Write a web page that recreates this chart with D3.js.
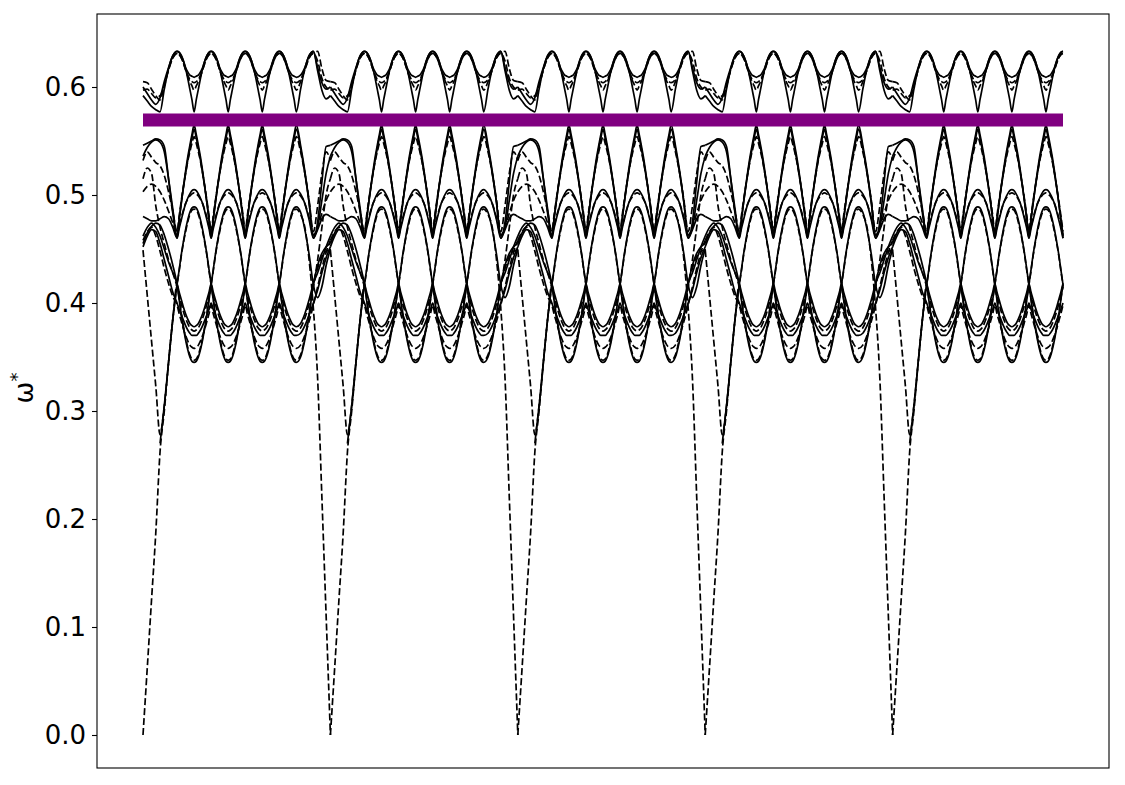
<!DOCTYPE html>
<html>
<head>
<meta charset="utf-8">
<script src="https://cdn.jsdelivr.net/npm/d3@7"></script>
<style>
  body { margin: 0; background: #fff; }
  svg { display: block; font-family: "DejaVu Sans", sans-serif; }
</style>
</head>
<body>
<svg id="chart"></svg>
<script>
// y axis ticks
const yTicks = [0.0, 0.1, 0.2, 0.3, 0.4, 0.5, 0.6];

// x runs over 5 repeated segments (last one cut short)
const segLength = 5.5;
const nSegments = 5;
const uMax = 27;
const purpleLevel = 0.5695;

// sample positions of the irregular parts at the start / end of each segment
const uStart = [0, 0.125, 0.25, 0.375, 0.5, 0.625, 0.75, 0.875];
const uEnd = [4.625, 4.75, 4.875, 5.0, 5.125, 5.25, 5.375, 5.5];

// regular part: one period read at steps of 1/16
const topVShape  = [0.633,0.632,0.629,0.624,0.617,0.608,0.598,0.588,0.577,0.588,0.598,0.608,0.617,0.624,0.629,0.632];
const topWShape  = [0.633,0.632,0.629,0.624,0.618,0.614,0.611,0.610,0.609,0.610,0.611,0.614,0.618,0.624,0.629,0.632];
const topDVShape = [0.631,0.630,0.627,0.622,0.616,0.610,0.605,0.601,0.597,0.601,0.605,0.610,0.616,0.622,0.627,0.630];
const topDWShape = [0.631,0.630,0.627,0.622,0.616,0.611,0.607,0.605,0.604,0.605,0.607,0.611,0.616,0.622,0.627,0.630];
const zigAShape  = [0.460,0.477,0.493,0.508,0.522,0.535,0.546,0.556,0.565,0.556,0.546,0.535,0.522,0.508,0.493,0.477];
const zigBShape  = [0.462,0.478,0.493,0.507,0.520,0.532,0.543,0.553,0.561,0.553,0.543,0.532,0.520,0.507,0.493,0.478];
const zigDShape  = [0.466,0.481,0.495,0.508,0.520,0.531,0.540,0.548,0.554,0.548,0.540,0.531,0.520,0.508,0.495,0.481];
const archSShape = [0.460,0.469,0.477,0.485,0.492,0.497,0.501,0.504,0.505,0.504,0.501,0.497,0.492,0.485,0.477,0.469];
const archDShape = [0.463,0.471,0.479,0.486,0.492,0.496,0.499,0.501,0.502,0.501,0.499,0.496,0.492,0.486,0.479,0.471];
const lowAShape  = [0.418,0.410,0.403,0.396,0.390,0.385,0.381,0.379,0.378,0.379,0.381,0.385,0.390,0.396,0.403,0.410];
const lowBShape  = [0.400,0.394,0.389,0.384,0.379,0.375,0.372,0.370,0.370,0.370,0.372,0.375,0.379,0.384,0.389,0.394];
const lowCShape  = [0.398,0.390,0.383,0.376,0.370,0.365,0.361,0.359,0.358,0.359,0.361,0.365,0.370,0.376,0.383,0.390];
const lowDShape  = [0.415,0.407,0.399,0.392,0.386,0.381,0.377,0.375,0.374,0.375,0.377,0.381,0.386,0.392,0.399,0.407];
// the wide wave has period 2 (32 samples, starting at its top)
const bigSShape = [0.489,0.488,0.484,0.477,0.468,0.457,0.445,0.431,0.417,0.403,0.389,0.377,0.366,0.357,0.350,0.346,
                   0.345,0.346,0.350,0.357,0.366,0.377,0.389,0.403,0.417,0.431,0.445,0.457,0.468,0.477,0.484,0.488];
const bigDShape = [0.487,0.486,0.482,0.475,0.466,0.456,0.444,0.430,0.417,0.404,0.390,0.378,0.368,0.359,0.352,0.348,
                   0.347,0.348,0.352,0.359,0.368,0.378,0.390,0.404,0.417,0.430,0.444,0.456,0.466,0.475,0.482,0.486];

// irregular parts (values at uStart / uEnd)
const topVStart  = [0.592,0.587,0.582,0.579,0.577,0.598,0.617,0.629];
const topVEnd    = [0.598,0.617,0.629,0.633,0.615,0.597,0.589,0.592];
const topWStart  = [0.600,0.594,0.588,0.584,0.590,0.605,0.618,0.629];
const topWEnd    = [0.611,0.618,0.629,0.633,0.618,0.604,0.598,0.600];
const topDVStart = [0.605,0.604,0.598,0.592,0.588,0.602,0.616,0.627];
const topDVEnd   = [0.605,0.616,0.627,0.632,0.633,0.617,0.606,0.605];
const topDWStart = [0.597,0.598,0.594,0.590,0.592,0.601,0.616,0.627];
const topDWEnd   = [0.607,0.616,0.627,0.631,0.624,0.608,0.600,0.597];
const zigAStart  = [0.546,0.548,0.550,0.552,0.551,0.545,0.515,0.483];
const zigAEnd    = [0.546,0.522,0.493,0.460,0.475,0.512,0.545,0.546];
const zigBStart  = [0.536,0.544,0.549,0.551,0.549,0.540,0.515,0.487];
const zigBEnd    = [0.543,0.520,0.493,0.462,0.470,0.495,0.520,0.536];
const zigDStart  = [0.532,0.540,0.535,0.530,0.527,0.518,0.503,0.485];
const zigDEnd    = [0.540,0.520,0.495,0.466,0.490,0.520,0.540,0.532];
const archSStart = [0.480,0.478,0.476,0.476,0.478,0.480,0.478,0.470];
const archSEnd   = [0.501,0.492,0.477,0.460,0.468,0.478,0.482,0.480];
const archDStart = [0.503,0.508,0.510,0.508,0.503,0.495,0.485,0.474];
const archDEnd   = [0.499,0.492,0.479,0.463,0.470,0.483,0.495,0.503];
const bigPSStart = [null,null,null,null,0.270,0.305,0.345,0.385];
const bigPSEnd   = [0.350,0.366,0.389,0.417,0.435,0.446,0.452,0.455];
const bigPDStart = [0.449,0.407,0.365,0.323,0.278,0.305,0.345,0.385];
const bigPDEnd   = [0.352,0.368,0.390,0.417,0.432,0.443,0.448,0.449];
const bigQSStart = [0.455,0.465,0.471,0.474,0.472,0.463,0.450,0.435];
const bigQSEnd   = [0.484,0.468,0.445,0.417,0.405,0.415,0.435,0.450];
const bigQDStart = [0.000,0.062,0.125,0.187,0.262,0.300,0.345,0.385];
const bigQDEnd   = [0.482,0.470,0.440,0.395,0.330,0.220,0.110,0.000];
const lowAStart  = [0.462,0.470,0.474,0.470,0.462,0.450,0.438,0.428];
const lowAEnd    = [0.381,0.390,0.403,0.418,0.428,0.440,0.452,0.462];
const lowBStart  = [0.452,0.462,0.468,0.466,0.455,0.440,0.425,0.410];
const lowBEnd    = [0.372,0.379,0.389,0.400,0.412,0.428,0.442,0.452];
const lowCStart  = [0.458,0.466,0.470,0.462,0.448,0.432,0.418,0.406];
const lowCEnd    = [0.361,0.370,0.383,0.398,0.415,0.432,0.447,0.458];
const lowDStart  = [0.515,0.525,0.520,0.490,0.470,0.455,0.440,0.428];
const lowDEnd    = [0.377,0.386,0.399,0.415,0.440,0.470,0.500,0.515];

// table of curves built from the arrays above (off = shift of the shape, in 1/16 steps)
const curves = [
  { dashed: false, shape: topVShape,  off: 0,  start: topVStart,  end: topVEnd },
  { dashed: false, shape: topWShape,  off: 0,  start: topWStart,  end: topWEnd },
  { dashed: true,  shape: topDVShape, off: 0,  start: topDVStart, end: topDVEnd },
  { dashed: true,  shape: topDWShape, off: 0,  start: topDWStart, end: topDWEnd },
  { dashed: false, shape: zigAShape,  off: 0,  start: zigAStart,  end: zigAEnd },
  { dashed: false, shape: zigBShape,  off: 0,  start: zigBStart,  end: zigBEnd },
  { dashed: true,  shape: zigDShape,  off: 0,  start: zigDStart,  end: zigDEnd },
  { dashed: false, shape: archSShape, off: 0,  start: archSStart, end: archSEnd },
  { dashed: true,  shape: archDShape, off: 0,  start: archDStart, end: archDEnd },
  { dashed: false, shape: bigSShape,  off: 24, start: bigPSStart, end: bigPSEnd },
  { dashed: true,  shape: bigDShape,  off: 24, start: bigPDStart, end: bigPDEnd },
  { dashed: false, shape: bigSShape,  off: 8,  start: bigQSStart, end: bigQSEnd },
  { dashed: true,  shape: bigDShape,  off: 8,  start: bigQDStart, end: bigQDEnd },
  { dashed: false, shape: lowAShape,  off: 0,  start: lowAStart,  end: lowAEnd },
  { dashed: false, shape: lowBShape,  off: 0,  start: lowBStart,  end: lowBEnd },
  { dashed: true,  shape: lowCShape,  off: 0,  start: lowCStart,  end: lowCEnd },
  { dashed: true,  shape: lowDShape,  off: 0,  start: lowDStart,  end: lowDEnd }
];

// layout
const W = 1125, H = 785;
const plot = { left: 97, top: 14, right: 1109, bottom: 768 };

const svg = d3.select("#chart").attr("width", W).attr("height", H);

const xScale = d3.scaleLinear().domain([0, uMax]).range([143, 1063]);
const yScale = d3.scaleLinear().domain([0, 0.6]).range([735, 87]);

// points of one curve in one segment
function segmentPoints(c, k) {
  const pts = [];
  const base = k * segLength;
  const last = k === nSegments - 1;
  uStart.forEach((u, i) => pts.push({ u: base + u, v: c.start[i] }));
  const n = c.shape.length;
  const jEnd = last ? 80 : 72;
  for (let j = 16; j <= jEnd; j++) {
    const idx = (((j - c.off) % n) + n) % n;
    pts.push({ u: base + j / 16, v: c.shape[idx] });
  }
  if (!last) uEnd.forEach((u, i) => pts.push({ u: base + u, v: c.end[i] }));
  return pts;
}

const line = d3.line()
  .defined(d => d.v !== null)
  .x(d => xScale(d.u))
  .y(d => yScale(d.v))
  .curve(d3.curveMonotoneX);

const g = svg.append("g");

curves.forEach(c => {
  for (let k = 0; k < nSegments; k++) {
    g.append("path")
      .datum(segmentPoints(c, k))
      .attr("fill", "none")
      .attr("stroke", "#000")
      .attr("stroke-width", 1.7)
      .attr("stroke-dasharray", c.dashed ? "7,3" : null)
      .attr("d", line);
  }
});

// purple band
svg.append("line")
  .attr("x1", xScale(0)).attr("x2", xScale(uMax))
  .attr("y1", yScale(purpleLevel)).attr("y2", yScale(purpleLevel))
  .attr("stroke", "#800080")
  .attr("stroke-width", 13);

// frame
svg.append("rect")
  .attr("x", plot.left).attr("y", plot.top)
  .attr("width", plot.right - plot.left).attr("height", plot.bottom - plot.top)
  .attr("fill", "none").attr("stroke", "#000").attr("stroke-width", 1.1);

// y axis
const yAxis = svg.append("g")
  .attr("transform", `translate(${plot.left},0)`)
  .call(d3.axisLeft(yScale).tickValues(yTicks).tickFormat(d3.format(".1f")).tickSize(5).tickPadding(6));
yAxis.select(".domain").remove();
yAxis.selectAll("line").attr("stroke", "#000").attr("stroke-width", 1.1);
yAxis.selectAll("text")
  .attr("fill", "#000")
  .style("font-family", "DejaVu Sans, sans-serif")
  .style("font-size", "26px");

// y label  ω*
const ylab = svg.append("text")
  .attr("transform", "translate(33,388) rotate(-90)")
  .attr("text-anchor", "middle")
  .style("font-size", "26px")
  .attr("fill", "#000");
ylab.append("tspan").text("ω");
ylab.append("tspan").attr("dy", -10).style("font-size", "18px").text("*");
</script>
</body>
</html>
